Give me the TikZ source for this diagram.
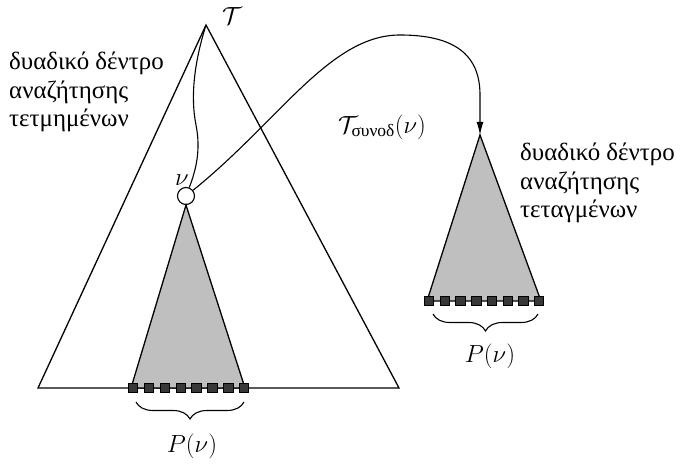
\documentclass[tikz,border=0pt]{standalone}
\usepackage{amsmath}
\usepackage{fontspec}
\setmainfont{Liberation Serif}
\usetikzlibrary{arrows.meta,decorations.pathreplacing}
\tikzset{
  edge/.style={line width=1.3bp, line join=miter},
  subtree/.style={edge, fill=gray!50},
  leaf/.style={draw=black, fill=black!78, line width=0.6bp, minimum size=9.5bp, inner sep=0pt, rectangle},
  vertex/.style={draw=black, fill=white, circle, line width=1.1bp, minimum size=17bp, inner sep=0pt},
  lbl/.style={font=\fontsize{25}{28.5}\selectfont, align=left, inner sep=0pt, anchor=north west},
  mlbl/.style={font=\fontsize{26}{28}\selectfont, inner sep=0pt},
  brc/.style={decorate, decoration={brace, amplitude=17bp, mirror}, line width=1.1bp},
}
\begin{document}
\begin{tikzpicture}[x=1bp, y=-1bp]
\useasboundingbox (0,0) rectangle (680,465);
% main tree
\coordinate (A) at (206,25);
\coordinate (BL) at (38,388);
\coordinate (BR) at (399,388);
\draw[edge] (BL) -- (A) -- (BR) -- cycle;
% subtree of nu
\node[vertex] (nu) at (186,196) {};
\coordinate (SL) at (131,388);
\coordinate (SR) at (245,388);
\draw[subtree] (nu.south) -- (SL) -- (SR) -- cycle;
\foreach \i in {0,...,7} \node[leaf] (l\i) at ({133+\i*15.857},388) {};
% associated tree
\coordinate (R) at (480,135);
\coordinate (RL) at (427,301);
\coordinate (RR) at (541,301);
\draw[subtree] (R) -- (RL) -- (RR) -- cycle;
\foreach \i in {0,...,7} \node[leaf] (r\i) at ({429+\i*15.714},301) {};
% path from root to nu
\draw[edge, line width=1.1bp] (A) .. controls (195,60) and (190,95) .. (196,125)
   .. controls (201,150) and (196,170) .. (nu);
% arc to associated structure
\draw[edge, line width=1.1bp, -{Latex[length=13bp,width=7bp]}] (nu) .. controls (280,120) and (330,35) .. (400,35)
   .. controls (455,35) and (480,55) .. (480,95) -- (R);
% braces
\coordinate (b1) at (136,402);
\coordinate (b2) at (244,402);
\draw[brc] (b1) -- (b2);
\coordinate (c1) at (433,314);
\coordinate (c2) at (538,314);
\draw[brc] (c1) -- (c2);
% labels
\node[mlbl] (Tl) at (232,16) {$\mathcal{T}$};
\node[mlbl, font=\fontsize{24}{26}\selectfont] (nul) at (182,180) {$\nu$};
\node[mlbl, font=\fontsize{25}{28}\selectfont] (Ta) at (382,127) {$\mathcal{T}_{\text{συνοδ}}(\nu)$};
\node[mlbl] (P1) at (192,446) {$P(\nu)$};
\node[mlbl] (P2) at (490,356) {$P(\nu)$};
\node[lbl] (t1) at (9,52) {δυαδικό δέντρο\\αναζήτησης\\τετμημένων};
\node[lbl] (t2) at (520,143) {δυαδικό δέντρο\\αναζήτησης\\τεταγμένων};
\end{tikzpicture}
\end{document}
